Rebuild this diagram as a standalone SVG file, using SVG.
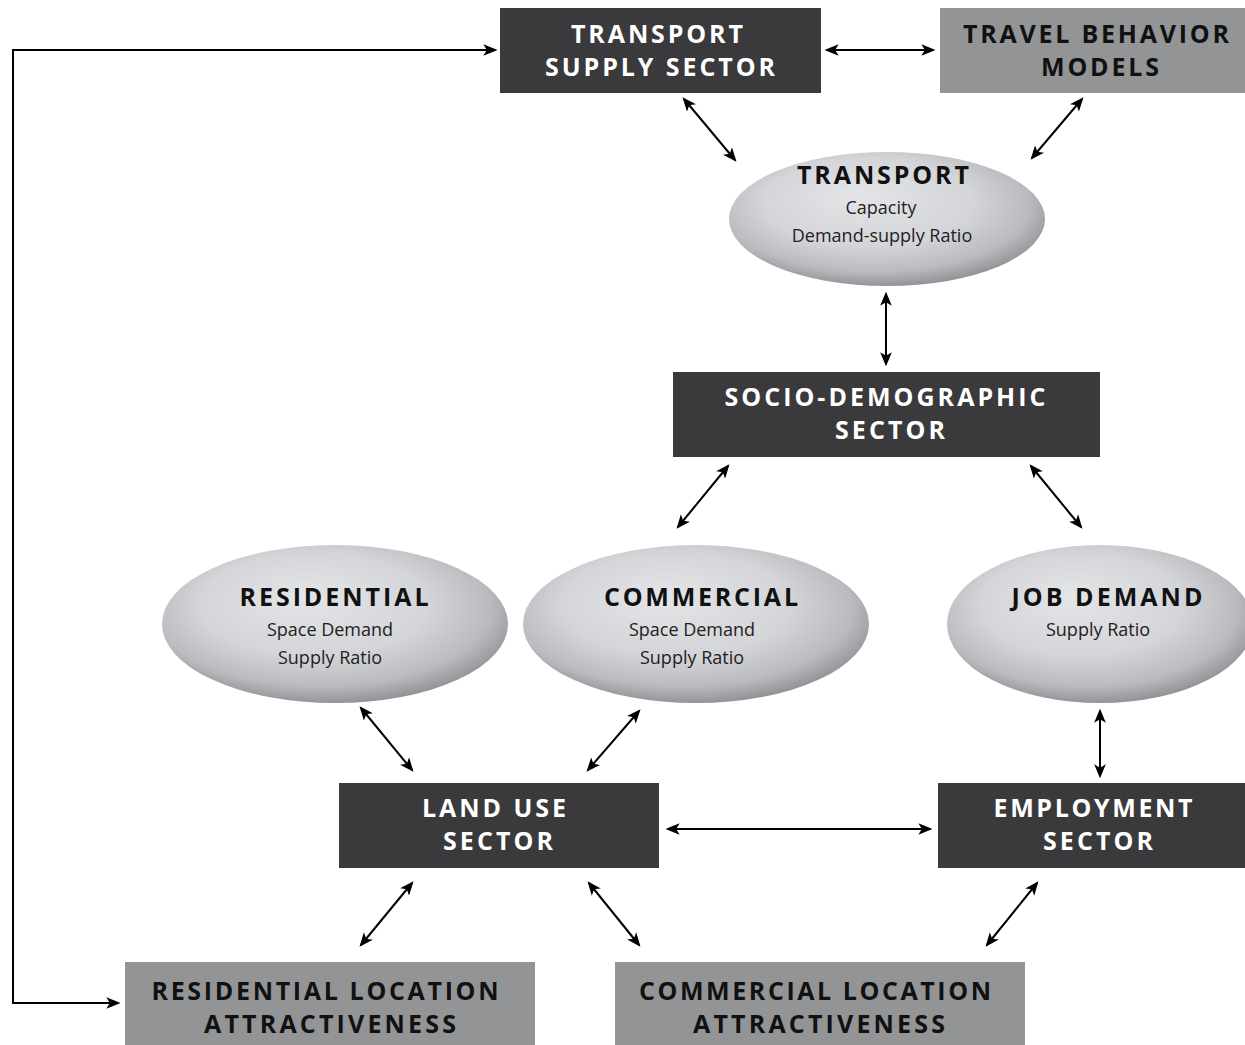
<svg xmlns="http://www.w3.org/2000/svg" width="1245" height="1045" viewBox="0 0 1245 1045">
<style>
.dark{fill:#3a3a3c}
.gray{fill:#939496}
.tw{font-family:"Open Sans","Liberation Sans",sans-serif;font-weight:bold;font-size:25px;fill:#ffffff;text-anchor:middle}
.tb{font-family:"Open Sans","Liberation Sans",sans-serif;font-weight:bold;font-size:25px;fill:#111111;text-anchor:middle}
.sub{font-family:"Open Sans","Liberation Sans",sans-serif;font-size:18px;fill:#222222;text-anchor:middle}
.c{fill:none;stroke:#000;stroke-width:2;marker-start:url(#ah);marker-end:url(#ah)}
</style>
<defs>
<marker id="ah" viewBox="0 0 12 10" refX="10" refY="5" markerWidth="7" markerHeight="6" orient="auto-start-reverse" markerUnits="strokeWidth">
<path d="M0,0 L12,5 L0,10 L3,5 z" fill="#000"/>
</marker>
<radialGradient id="eg" cx="0.47" cy="0.42" r="0.6" fx="0.4" fy="0.32">
<stop offset="0" stop-color="#e4e5e7"/>
<stop offset="0.55" stop-color="#d4d5d8"/>
<stop offset="0.82" stop-color="#babbbe"/>
<stop offset="1" stop-color="#8c8d90"/>
</radialGradient>
</defs>
<rect width="1245" height="1045" fill="#ffffff"/>
<g id="connectors">
<path class="c" d="M118,1003 H13 V50 H495"/>
<line class="c" x1="827" y1="50" x2="933" y2="50"/>
<line class="c" x1="684" y1="99" x2="735" y2="160"/>
<line class="c" x1="1082" y1="99" x2="1032" y2="158"/>
<line class="c" x1="886" y1="294" x2="886" y2="364"/>
<line class="c" x1="728" y1="466" x2="678" y2="527"/>
<line class="c" x1="1031" y1="466" x2="1081" y2="527"/>
<line class="c" x1="361" y1="708" x2="412" y2="770"/>
<line class="c" x1="639" y1="711" x2="588" y2="770"/>
<line class="c" x1="1100" y1="711" x2="1100" y2="776"/>
<line class="c" x1="668" y1="829" x2="930" y2="829"/>
<line class="c" x1="412" y1="883" x2="361" y2="945"/>
<line class="c" x1="589" y1="883" x2="639" y2="945"/>
<line class="c" x1="1037" y1="883" x2="987" y2="945"/>
</g>
<g id="transport-supply">
<rect class="dark" x="500" y="8" width="321" height="85"/>
<text class="tw" x="657" y="43" textLength="172" lengthAdjust="spacing">TRANSPORT</text>
<text class="tw" x="660" y="76" textLength="230" lengthAdjust="spacing">SUPPLY SECTOR</text>
</g>
<g id="travel-behavior">
<rect class="gray" x="940" y="8" width="305" height="85"/>
<text class="tb" x="1096" y="43" textLength="266" lengthAdjust="spacing">TRAVEL BEHAVIOR</text>
<text class="tb" x="1100" y="76" textLength="118" lengthAdjust="spacing">MODELS</text>
</g>
<g id="transport">
<ellipse cx="887" cy="219" rx="158" ry="67" fill="url(#eg)"/>
<text class="tb" x="883" y="184" textLength="172" lengthAdjust="spacing">TRANSPORT</text>
<text class="sub" x="881" y="214">Capacity</text>
<text class="sub" x="882" y="242">Demand-supply Ratio</text>
</g>
<g id="socio-demographic">
<rect class="dark" x="673" y="372" width="427" height="85"/>
<text class="tw" x="885" y="406" textLength="321" lengthAdjust="spacing">SOCIO-DEMOGRAPHIC</text>
<text class="tw" x="890" y="439" textLength="110" lengthAdjust="spacing">SECTOR</text>
</g>
<g id="residential">
<ellipse cx="335" cy="624" rx="173" ry="79" fill="url(#eg)"/>
<text class="tb" x="334" y="606" textLength="189" lengthAdjust="spacing">RESIDENTIAL</text>
<text class="sub" x="330" y="636">Space Demand</text>
<text class="sub" x="330" y="664">Supply Ratio</text>
</g>
<g id="commercial">
<ellipse cx="696" cy="624" rx="173" ry="79" fill="url(#eg)"/>
<text class="tb" x="701" y="606" textLength="194" lengthAdjust="spacing">COMMERCIAL</text>
<text class="sub" x="692" y="636">Space Demand</text>
<text class="sub" x="692" y="664">Supply Ratio</text>
</g>
<g id="job-demand">
<ellipse cx="1100" cy="624" rx="153" ry="79" fill="url(#eg)"/>
<text class="tb" x="1107" y="606" textLength="191" lengthAdjust="spacing">JOB DEMAND</text>
<text class="sub" x="1098" y="636">Supply Ratio</text>
</g>
<g id="land-use">
<rect class="dark" x="339" y="783" width="320" height="85"/>
<text class="tw" x="494" y="817" textLength="144" lengthAdjust="spacing">LAND USE</text>
<text class="tw" x="498" y="850" textLength="110" lengthAdjust="spacing">SECTOR</text>
</g>
<g id="employment">
<rect class="dark" x="938" y="783" width="307" height="85"/>
<text class="tw" x="1093" y="817" textLength="199" lengthAdjust="spacing">EMPLOYMENT</text>
<text class="tw" x="1098" y="850" textLength="110" lengthAdjust="spacing">SECTOR</text>
</g>
<g id="residential-location">
<rect class="gray" x="125" y="962" width="410" height="83"/>
<text class="tb" x="325" y="1000" textLength="347" lengthAdjust="spacing">RESIDENTIAL LOCATION</text>
<text class="tb" x="330" y="1033" textLength="252" lengthAdjust="spacing">ATTRACTIVENESS</text>
</g>
<g id="commercial-location">
<rect class="gray" x="615" y="962" width="410" height="83"/>
<text class="tb" x="815" y="1000" textLength="352" lengthAdjust="spacing">COMMERCIAL LOCATION</text>
<text class="tb" x="819" y="1033" textLength="252" lengthAdjust="spacing">ATTRACTIVENESS</text>
</g>
</svg>
